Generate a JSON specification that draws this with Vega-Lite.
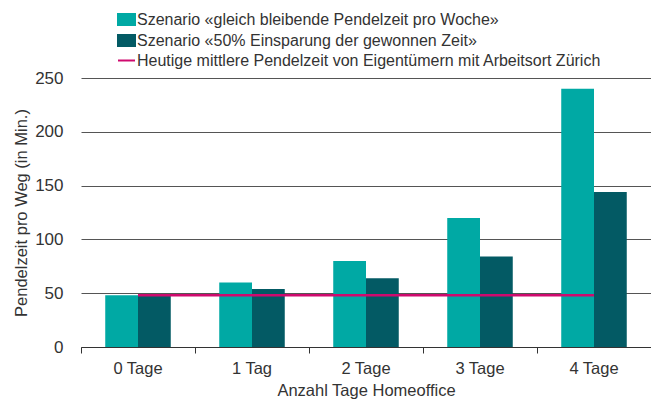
{
  "$schema": "https://vega.github.io/schema/vega-lite/v6.json",
  "width": 570,
  "height": 269,
  "autosize": "none",
  "padding": {"left": 81, "top": 78, "right": 0, "bottom": 54},
  "background": "white",
  "config": {
    "font": "Liberation Sans",
    "view": {"stroke": null},
    "axis": {"labelColor": "#333", "titleColor": "#333", "labelFont": "Liberation Sans", "titleFont": "Liberation Sans", "titleFontWeight": "normal"},
    "legend": {"labelFont": "Liberation Sans"}
  },
  "datasets": {
    "bars": [
      {"tage": "0 Tage", "szenario": "Szenario «gleich bleibende Pendelzeit pro Woche»", "wert": 48},
      {"tage": "0 Tage", "szenario": "Szenario «50% Einsparung der gewonnen Zeit»", "wert": 48},
      {"tage": "1 Tag", "szenario": "Szenario «gleich bleibende Pendelzeit pro Woche»", "wert": 60},
      {"tage": "1 Tag", "szenario": "Szenario «50% Einsparung der gewonnen Zeit»", "wert": 54},
      {"tage": "2 Tage", "szenario": "Szenario «gleich bleibende Pendelzeit pro Woche»", "wert": 80},
      {"tage": "2 Tage", "szenario": "Szenario «50% Einsparung der gewonnen Zeit»", "wert": 64},
      {"tage": "3 Tage", "szenario": "Szenario «gleich bleibende Pendelzeit pro Woche»", "wert": 120},
      {"tage": "3 Tage", "szenario": "Szenario «50% Einsparung der gewonnen Zeit»", "wert": 84},
      {"tage": "4 Tage", "szenario": "Szenario «gleich bleibende Pendelzeit pro Woche»", "wert": 240},
      {"tage": "4 Tage", "szenario": "Szenario «50% Einsparung der gewonnen Zeit»", "wert": 144}
    ],
    "linie": [
      {"tage": "0 Tage", "szenario": "Heutige mittlere Pendelzeit von Eigentümern mit Arbeitsort Zürich", "wert": 48},
      {"tage": "1 Tag", "szenario": "Heutige mittlere Pendelzeit von Eigentümern mit Arbeitsort Zürich", "wert": 48},
      {"tage": "2 Tage", "szenario": "Heutige mittlere Pendelzeit von Eigentümern mit Arbeitsort Zürich", "wert": 48},
      {"tage": "3 Tage", "szenario": "Heutige mittlere Pendelzeit von Eigentümern mit Arbeitsort Zürich", "wert": 48},
      {"tage": "4 Tage", "szenario": "Heutige mittlere Pendelzeit von Eigentümern mit Arbeitsort Zürich", "wert": 48}
    ]
  },
  "encoding": {
    "x": {
      "field": "tage", "type": "nominal", "sort": null,
      "scale": {"paddingInner": 0, "paddingOuter": 0},
      "axis": {
        "title": "Anzahl Tage Homeoffice", "titleFontSize": 16.5, "titlePadding": 6,
        "labelAngle": 0, "labelFontSize": 16.5, "labelPadding": 7,
        "domainColor": "#333", "domainWidth": 1,
        "tickColor": "#333", "tickSize": 6, "bandPosition": 0,
        "grid": false
      }
    },
    "y": {
      "field": "wert", "type": "quantitative",
      "scale": {"domain": [0, 250], "nice": false},
      "axis": {
        "title": "Pendelzeit pro Weg (in Min.)", "titleFontSize": 16.5, "titlePadding": 5,
        "values": [0, 50, 100, 150, 200, 250],
        "labelFontSize": 17, "labelPadding": 18,
        "domain": false, "ticks": false,
        "grid": true, "gridColor": "#555", "gridWidth": 1
      }
    },
    "color": {
      "field": "szenario", "type": "nominal",
      "scale": {
        "domain": ["Szenario «gleich bleibende Pendelzeit pro Woche»", "Szenario «50% Einsparung der gewonnen Zeit»", "Heutige mittlere Pendelzeit von Eigentümern mit Arbeitsort Zürich"],
        "range": ["#00a9a4", "#035a64", "#cf0a6e"]
      },
      "legend": {
        "title": null, "orient": "none", "legendX": 36, "legendY": -68,
        "direction": "vertical", "padding": 0,
        "labelFontSize": 16, "labelColor": "#333", "labelOffset": 1, "labelLimit": 600,
        "rowPadding": 0, "symbolSize": 289, "symbolStrokeWidth": 2,
        "encode": {
          "symbols": {
            "update": {
              "shape": {"signal": "datum.index == 2 ? 'M-1,0H1' : 'M-1,-0.65H1V0.65H-1Z'"},
              "fill": {"signal": "datum.index == 2 ? 'transparent' : (datum.index == 1 ? '#035a64' : '#00a9a4')"},
              "stroke": {"signal": "datum.index == 2 ? '#cf0a6e' : 'transparent'"},
              "strokeWidth": {"value": 2},
              "opacity": {"value": 1}
            }
          }
        }
      }
    }
  },
  "layer": [
    {
      "data": {"name": "bars"},
      "mark": {"type": "bar", "opacity": 1},
      "encoding": {
        "xOffset": {"field": "szenario", "type": "nominal", "sort": null, "scale": {"paddingInner": 0, "paddingOuter": 0.74}}
      }
    },
    {
      "data": {"name": "linie"},
      "mark": {"type": "line", "strokeWidth": 2.5},
      "encoding": {}
    }
  ]
}
